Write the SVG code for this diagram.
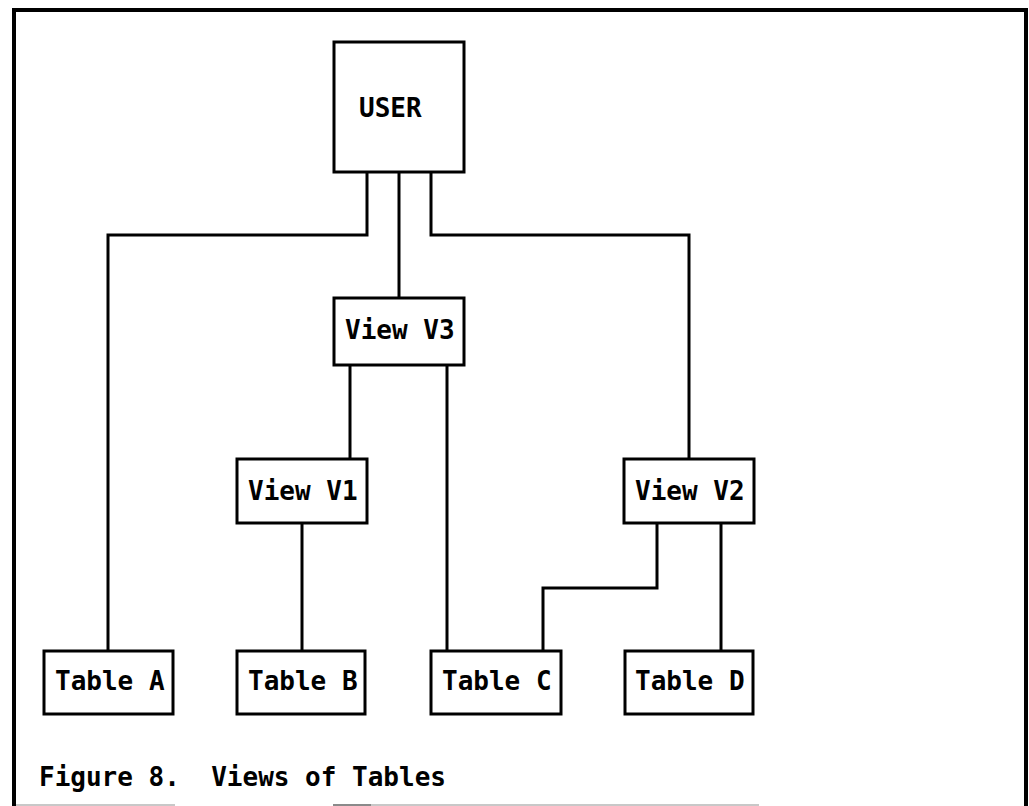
<svg xmlns="http://www.w3.org/2000/svg" width="1029" height="806" viewBox="0 0 1029 806">
  <style>
    .box { fill: #ffffff; stroke: #000000; stroke-width: 3; }
    .wire { fill: none; stroke: #000000; stroke-width: 3; stroke-linejoin: miter; }
    .label { font-family: "DejaVu Sans Mono", "Liberation Mono", monospace; font-weight: bold; font-size: 26px; fill: #000000; }
    .caption { font-family: "DejaVu Sans Mono", "Liberation Mono", monospace; font-weight: bold; font-size: 26px; fill: #000000; white-space: pre; }
  </style>
  <rect x="0" y="0" width="1029" height="806" fill="#ffffff"/>

  <!-- figure frame (open at the bottom) -->
  <path d="M14 806 V10 H1026 V806" fill="none" stroke="#000000" stroke-width="4"/>
  <path d="M16 805 H175 M371 805 H759" stroke="#c8c8c8" stroke-width="2"/>
  <path d="M333 805 H371" stroke="#8a8a8a" stroke-width="2"/>

  <!-- connectors -->
  <g id="connectors">
    <path class="wire" d="M367 172 V235 H108 V651"/>
    <path class="wire" d="M399 172 V298"/>
    <path class="wire" d="M431 172 V235 H689 V459"/>
    <path class="wire" d="M350 365 V459"/>
    <path class="wire" d="M447 365 V651"/>
    <path class="wire" d="M302 523 V651"/>
    <path class="wire" d="M657 523 V588 H543 V651"/>
    <path class="wire" d="M721 523 V651"/>
  </g>

  <!-- nodes -->
  <g id="user">
    <rect class="box" x="334" y="42" width="130" height="130"/>
    <text class="label" x="359" y="117">USER</text>
  </g>
  <g id="view-v3">
    <rect class="box" x="334" y="298" width="130" height="67"/>
    <text class="label" x="345" y="339">View V3</text>
  </g>
  <g id="view-v1">
    <rect class="box" x="237" y="459" width="130" height="64"/>
    <text class="label" x="248" y="500">View V1</text>
  </g>
  <g id="view-v2">
    <rect class="box" x="624" y="459" width="130" height="64"/>
    <text class="label" x="635" y="500">View V2</text>
  </g>
  <g id="table-a">
    <rect class="box" x="44" y="651" width="129" height="63"/>
    <text class="label" x="55" y="690">Table A</text>
  </g>
  <g id="table-b">
    <rect class="box" x="237" y="651" width="128" height="63"/>
    <text class="label" x="248" y="690">Table B</text>
  </g>
  <g id="table-c">
    <rect class="box" x="431" y="651" width="130" height="63"/>
    <text class="label" x="442" y="690">Table C</text>
  </g>
  <g id="table-d">
    <rect class="box" x="625" y="651" width="128" height="63"/>
    <text class="label" x="635" y="690">Table D</text>
  </g>

  <text class="caption" x="39" y="786" xml:space="preserve">Figure 8.  Views of Tables</text>
</svg>
